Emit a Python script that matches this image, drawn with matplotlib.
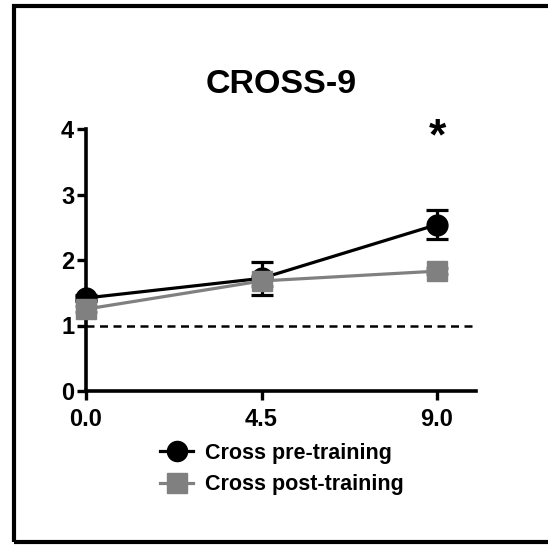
import matplotlib
matplotlib.use("Agg")
import matplotlib.pyplot as plt
from matplotlib.patches import Rectangle
from matplotlib.lines import Line2D

plt.rcParams['font.family'] = ['Liberation Sans', 'DejaVu Sans']
plt.rcParams['font.weight'] = 'bold'

x_vals = [0.0, 4.5, 9.0]
pre_mean = [1.42, 1.72, 2.54]
pre_err = [0.05, 0.25, 0.22]
post_mean = [1.25, 1.68, 1.83]
post_err = [0.05, 0.08, 0.05]
x_ticks = [0.0, 4.5, 9.0]
x_ticklabels = ["0.0", "4.5", "9.0"]
y_ticks = [0, 1, 2, 3, 4]
title = "CROSS-9"
labels = ["Cross pre-training", "Cross post-training"]
gray = "#808080"

fig = plt.figure(figsize=(5.48, 5.45), dpi=100)
ax = fig.add_axes([86/548, 1-391/545, (476-86)/548, (391-129)/545])

ax.axhline(1, color='black', lw=1.8, ls=(0, (3.2, 2.2)), zorder=1)

h1 = ax.errorbar(x_vals, pre_mean, yerr=pre_err, color='black', marker='o',
                 markersize=15, lw=2.3, elinewidth=2.3, capsize=8, capthick=2.3,
                 label=labels[0], clip_on=False, zorder=3)
h2 = ax.errorbar(x_vals, post_mean, yerr=post_err, color=gray, marker='s',
                 markersize=14.5, lw=2.3, elinewidth=2.3, capsize=8, capthick=2.3,
                 label=labels[1], clip_on=False, zorder=4)
for h in (h1, h2):
    for a in h.get_children():
        a.set_clip_on(False)

ax.set_xlim(0, 10)
ax.set_ylim(0, 4)
ax.set_xticks(x_ticks)
ax.set_xticklabels(x_ticklabels)
ax.set_yticks(y_ticks)
for s in ['top', 'right']:
    ax.spines[s].set_visible(False)
for s in ['left', 'bottom']:
    ax.spines[s].set_linewidth(2.6)
ax.tick_params(axis='both', direction='out', length=6.5, width=2.4, labelsize=17, pad=2)
ax.tick_params(axis='x', pad=6)
for lab in ax.get_xticklabels() + ax.get_yticklabels():
    lab.set_fontweight('bold')

ax.set_title(title, fontsize=24.5, fontweight='bold', pad=26)
ax.text(9.0, 3.86, "*", fontsize=32, fontweight='bold', ha='center', va='center')

handles = [Line2D([], [], color='black', marker='o', markersize=14.5, lw=2.3),
           Line2D([], [], color=gray, marker='s', markersize=14, lw=2.3)]
leg = fig.legend(handles, labels, loc='center left',
                 bbox_to_anchor=(160/548, 1-469/545), frameon=False,
                 prop={'size': 15.5, 'weight': 'bold'}, handlelength=1.55,
                 handletextpad=0.55, labelspacing=0.5, borderpad=0, borderaxespad=0)

fig.patches.append(Rectangle((14/548, 1-541.5/545), 1.0, (541.5-6)/545,
                             transform=fig.transFigure, fill=False,
                             edgecolor='black', lw=3.0))

fig.savefig("out.png", dpi=100)
